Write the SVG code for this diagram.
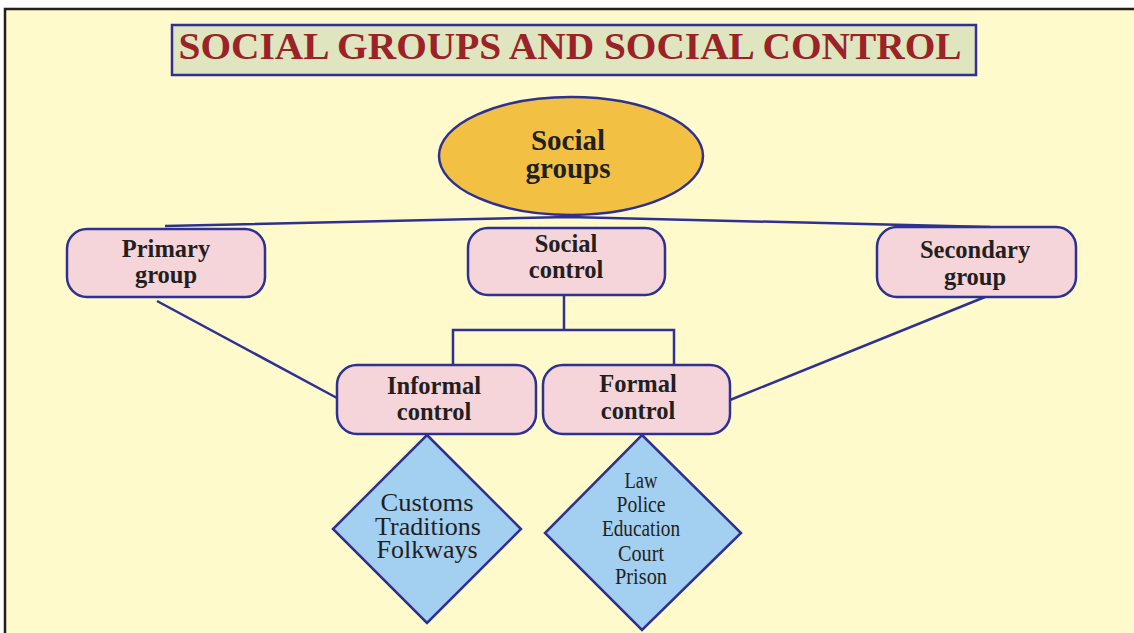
<svg xmlns="http://www.w3.org/2000/svg" width="1134" height="633" viewBox="0 0 1134 633">
<style>
.box{fill:#f5d5da;stroke:#2e3192;stroke-width:2.5}
.dia{fill:#a3cff0;stroke:#2e3192;stroke-width:2.5}
.ln{fill:none;stroke:#2e3192;stroke-width:2.5}
.lb{font-weight:bold;fill:#231f20;text-anchor:middle}
.it{fill:#231f20;text-anchor:middle}
</style>
<rect x="0" y="0" width="1134" height="633" fill="#ffffff"/>
<rect x="5" y="9" width="1135" height="630" fill="#fefacc" stroke="#231f20" stroke-width="2.5"/>
<g id="title">
<rect x="172" y="25" width="804" height="50" fill="#dfe5bf" stroke="#2e3192" stroke-width="2.5"/>
<text x="570" y="59" font-family="Liberation Serif, serif" font-weight="bold" font-size="38" fill="#9b2328" text-anchor="middle" textLength="783" lengthAdjust="spacingAndGlyphs">SOCIAL GROUPS AND SOCIAL CONTROL</text>
</g>
<g id="connectors">
<polyline class="ln" points="165,226 569,217 990,227"/>
<polyline class="ln" points="564,295 564,330"/>
<polyline class="ln" points="453,365 453,330 674,330 674,365"/>
<line class="ln" x1="157" y1="301" x2="337" y2="398"/>
<line class="ln" x1="985" y1="297" x2="730" y2="400"/>
</g>
<g font-family="Liberation Serif, serif" font-size="24.5">
<g id="social-groups">
<ellipse cx="571" cy="156" rx="132" ry="59" fill="#f2c144" stroke="#2e3192" stroke-width="2.5"/>
<text class="lb" x="568" y="150" font-size="29">Social</text>
<text class="lb" x="568" y="178" font-size="29">groups</text>
</g>
<g id="primary-group">
<rect class="box" x="67" y="229" width="198" height="68" rx="20"/>
<text class="lb" x="166" y="257">Primary</text>
<text class="lb" x="166" y="283">group</text>
</g>
<g id="social-control">
<rect class="box" x="468" y="228" width="197" height="67" rx="20"/>
<text class="lb" x="566" y="252">Social</text>
<text class="lb" x="566" y="278">control</text>
</g>
<g id="secondary-group">
<rect class="box" x="877" y="227" width="199" height="70" rx="20"/>
<text class="lb" x="975" y="258">Secondary</text>
<text class="lb" x="975" y="285">group</text>
</g>
<g id="informal-control">
<rect class="box" x="337" y="365" width="199" height="69" rx="20"/>
<text class="lb" x="434" y="394">Informal</text>
<text class="lb" x="434" y="420">control</text>
</g>
<g id="formal-control">
<rect class="box" x="543" y="365" width="187" height="69" rx="20"/>
<text class="lb" x="638" y="392">Formal</text>
<text class="lb" x="638" y="419">control</text>
</g>
<g id="informal-items" font-size="25">
<polygon class="dia" points="427,435 521,529 427,623 333,529"/>
<text class="it" x="427" y="511" textLength="93" lengthAdjust="spacingAndGlyphs">Customs</text>
<text class="it" x="428" y="535" textLength="106" lengthAdjust="spacingAndGlyphs">Traditions</text>
<text class="it" x="427" y="558" textLength="101" lengthAdjust="spacingAndGlyphs">Folkways</text>
</g>
<g id="formal-items" font-size="23">
<polygon class="dia" points="642,435 741,533 642,630 545,533"/>
<text class="it" x="641" y="488" textLength="33" lengthAdjust="spacingAndGlyphs">Law</text>
<text class="it" x="641" y="512" textLength="49" lengthAdjust="spacingAndGlyphs">Police</text>
<text class="it" x="641" y="536" textLength="78" lengthAdjust="spacingAndGlyphs">Education</text>
<text class="it" x="641" y="561" textLength="46" lengthAdjust="spacingAndGlyphs">Court</text>
<text class="it" x="641" y="584" textLength="52" lengthAdjust="spacingAndGlyphs">Prison</text>
</g>
</g>
</svg>
